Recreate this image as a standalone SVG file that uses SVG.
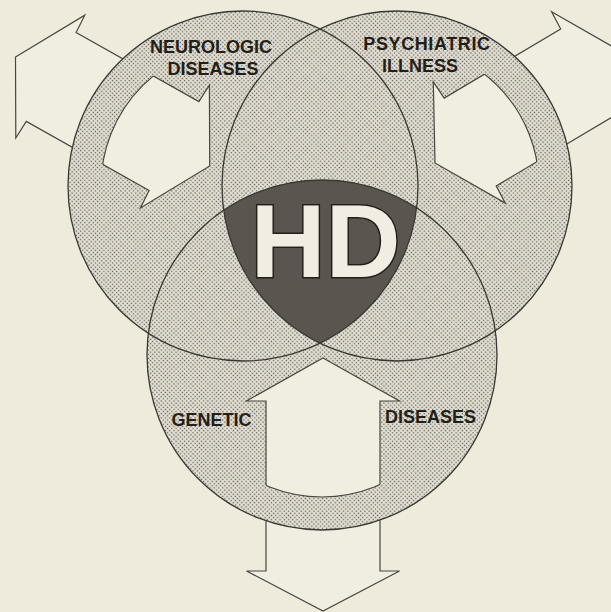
<svg xmlns="http://www.w3.org/2000/svg" width="611" height="612" viewBox="0 0 611 612">
<style>
.bg{fill:#eeeadc}
.dot{fill:url(#dots)}
.ol{fill:none;stroke:#3b3834;stroke-width:1.3}
.arrow{fill:#f0ede1;stroke:#4a4641;stroke-width:1.2;stroke-linejoin:miter}
.arc{fill:none;stroke:#4a4641;stroke-width:1.2}
.lbl{font-family:"Liberation Sans",Arial,Helvetica,sans-serif;font-weight:bold;font-size:18px;fill:#221e1a;text-anchor:middle}
.hd{font-family:"Liberation Sans",Arial,Helvetica,sans-serif;font-weight:bold;font-size:104px;fill:#f1ede2;stroke:#221e1a;stroke-width:3;paint-order:stroke;text-anchor:middle}
</style>
<defs>
<pattern id="dots" width="3" height="3" patternUnits="userSpaceOnUse" patternTransform="rotate(45)">
<rect width="3" height="3" fill="#e3dfd3"/>
<circle cx="1.5" cy="1.5" r="0.72" fill="#5a5752"/>
</pattern>
<clipPath id="cL"><circle cx="243" cy="186" r="175"/></clipPath>
<clipPath id="cR"><circle cx="397" cy="186" r="175"/></clipPath>
<clipPath id="aL"><path d="M15.5,57 L84.8,15.2 L76.1,32.6 L198.9,101.6 L209.4,85.1 L209.7,166 L140.4,207.9 L149.1,190.4 L26.3,121.4 L15.8,138 Z"/></clipPath>
<clipPath id="aR"><path d="M622,52 L551.6,11.8 L560.7,29 L444.2,98.1 L433.3,81.9 L435,162.9 L505.3,203.1 L496.2,185.9 L612.7,116.8 L623.6,133 Z"/></clipPath>
<clipPath id="aB"><path d="M323,358 L399.5,401 L380,401 L380,571 L399.5,571 L323,611 L246.5,571 L266,571 L266,401 L246.5,401 Z"/></clipPath>
<mask id="mL" maskUnits="userSpaceOnUse" x="0" y="0" width="611" height="612">
<rect width="611" height="612" fill="#fff"/>
<path fill="#000" fill-rule="evenodd" d="M68,186 a175,175 0 1,0 350,0 a175,175 0 1,0 -350,0 Z M101,186 a142,142 0 1,0 284,0 a142,142 0 1,0 -284,0 Z"/>
</mask>
<mask id="mR" maskUnits="userSpaceOnUse" x="0" y="0" width="611" height="612">
<rect width="611" height="612" fill="#fff"/>
<path fill="#000" fill-rule="evenodd" d="M222,186 a175,175 0 1,0 350,0 a175,175 0 1,0 -350,0 Z M255,186 a142,142 0 1,0 284,0 a142,142 0 1,0 -284,0 Z"/>
</mask>
<mask id="mB" maskUnits="userSpaceOnUse" x="0" y="0" width="611" height="612">
<rect width="611" height="612" fill="#fff"/>
<path fill="#000" fill-rule="evenodd" d="M147,355 a175,175 0 1,0 350,0 a175,175 0 1,0 -350,0 Z M180,355 a142,142 0 1,0 284,0 a142,142 0 1,0 -284,0 Z"/>
</mask>
</defs>
<rect class="bg" width="611" height="612"/>
<g id="circle-fills">
<circle class="dot" cx="243" cy="186" r="175"/>
<circle class="dot" cx="397" cy="186" r="175"/>
<circle class="dot" cx="322" cy="355" r="175"/>
</g>
<g id="hd-region" clip-path="url(#cL)">
<g clip-path="url(#cR)">
<circle cx="322" cy="355" r="175" fill="#5a554e"/>
</g>
</g>
<g id="connectors">
<g id="arrow-neurologic">
<path class="arrow" mask="url(#mL)" d="M15.5,57 L84.8,15.2 L76.1,32.6 L198.9,101.6 L209.4,85.1 L209.7,166 L140.4,207.9 L149.1,190.4 L26.3,121.4 L15.8,138 Z"/>
<circle class="arc" clip-path="url(#aL)" cx="243" cy="186" r="142"/>
</g>
<g id="arrow-psychiatric">
<path class="arrow" mask="url(#mR)" d="M622,52 L551.6,11.8 L560.7,29 L444.2,98.1 L433.3,81.9 L435,162.9 L505.3,203.1 L496.2,185.9 L612.7,116.8 L623.6,133 Z"/>
<circle class="arc" clip-path="url(#aR)" cx="397" cy="186" r="142"/>
</g>
<g id="arrow-genetic">
<path class="arrow" mask="url(#mB)" d="M323,358 L399.5,401 L380,401 L380,571 L399.5,571 L323,611 L246.5,571 L266,571 L266,401 L246.5,401 Z"/>
<circle class="arc" clip-path="url(#aB)" cx="322" cy="355" r="142"/>
</g>
</g>
<g id="node-neurologic">
<circle class="ol" cx="243" cy="186" r="175"/>
<text class="lbl" x="211" y="53">NEUROLOGIC</text>
<text class="lbl" x="213" y="75">DISEASES</text>
</g>
<g id="node-psychiatric">
<circle class="ol" cx="397" cy="186" r="175"/>
<text class="lbl" x="427" y="50" style="letter-spacing:0.6px">PSYCHIATRIC</text>
<text class="lbl" x="420" y="72">ILLNESS</text>
</g>
<g id="node-genetic">
<circle class="ol" cx="322" cy="355" r="175"/>
<text class="lbl" x="211.5" y="426">GENETIC</text>
<text class="lbl" x="430.5" y="423">DISEASES</text>
</g>
<g id="node-hd">
<text class="hd" x="325.5" y="277">HD</text>
</g>
</svg>
